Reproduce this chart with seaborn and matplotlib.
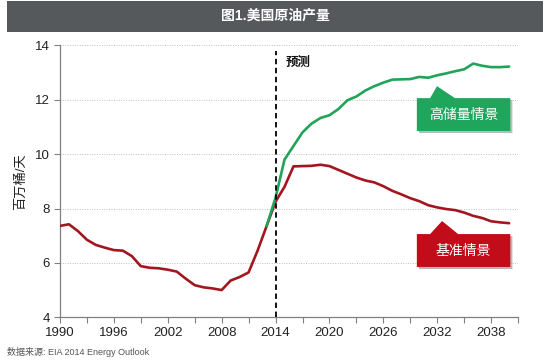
import matplotlib
matplotlib.use("Agg")
import pandas as pd
import matplotlib.pyplot as plt
import matplotlib.patheffects as pe
from matplotlib.patches import Polygon, Rectangle
from matplotlib.ticker import FixedLocator, MultipleLocator
import seaborn as sns

# data (million barrels / day)
years = list(range(1990, 2041))
base = [7.36, 7.42, 7.17, 6.85, 6.66, 6.56, 6.47, 6.45, 6.25, 5.88,
        5.82, 5.80, 5.75, 5.68, 5.42, 5.18, 5.10, 5.06, 5.00, 5.35,
        5.48, 5.65, 6.45, 7.35, 8.25, 8.80, 9.55, 9.56, 9.57, 9.61,
        9.56, 9.42, 9.28, 9.14, 9.03, 8.96, 8.82, 8.65, 8.52, 8.38,
        8.27, 8.12, 8.04, 7.98, 7.94, 7.85, 7.73, 7.65, 7.53, 7.49,
        7.46]
high_years = list(range(2013, 2041))
high = [7.35, 8.40, 9.80, 10.30, 10.80, 11.12, 11.33, 11.43, 11.66, 11.98,
        12.12, 12.34, 12.50, 12.63, 12.74, 12.75, 12.76, 12.84, 12.81, 12.90,
        12.97, 13.05, 13.12, 13.33, 13.25, 13.20, 13.20, 13.22]

label_years = [1990, 1996, 2002, 2008, 2014, 2020, 2026, 2032, 2038]
minor_years = [1993, 1999, 2005, 2011, 2017, 2023, 2029, 2035, 2041]

title = "图1.美国原油产量"
ylabel = "百万桶/天"
forecast_label = "预测"
base_label = "基准情景"
high_label = "高储量情景"
source = "数据来源: EIA 2014 Energy Outlook"
forecast_year = 2014

red = "#a3161f"
green = "#22a35a"
box_red = "#c10d19"
box_green = "#1fa55c"

df = pd.concat([
    pd.DataFrame({"year": years, "value": base, "scenario": base_label}),
    pd.DataFrame({"year": high_years, "value": high, "scenario": high_label}),
])

sns.set_theme(style="white")
plt.rcParams["font.family"] = ["Liberation Sans", "Noto Sans CJK SC", "DejaVu Sans"]

fig = plt.figure(figsize=(5.5, 3.63), dpi=100)
ax = fig.add_axes([0.109, 0.126, 0.833, 0.749])

sns.lineplot(data=df, x="year", y="value", hue="scenario",
             palette={base_label: red, high_label: green},
             linewidth=1.9, legend=False, ax=ax, zorder=3)

ax.set_xlim(1990, 2041)
ax.set_ylim(4, 14)
ax.xaxis.set_major_locator(FixedLocator(label_years))
ax.xaxis.set_minor_locator(FixedLocator(minor_years))
ax.yaxis.set_major_locator(MultipleLocator(2))
ax.tick_params(axis="both", which="both", direction="out", length=4,
               width=0.8, color="#808080", labelsize=9.5, labelcolor="#222222",
               bottom=True, left=True, pad=3)
ax.set_xlabel("")
ax.set_ylabel(ylabel, fontsize=9.5, color="#222222", labelpad=6)

for y in [6, 8, 10, 12, 14]:
    ax.axhline(y, color="#c0c0c0", linestyle=(0, (1, 1.5)), linewidth=0.7, zorder=1)

for side in ["top", "right"]:
    ax.spines[side].set_visible(False)
for side in ["left", "bottom"]:
    ax.spines[side].set_color("#808080")
    ax.spines[side].set_linewidth(0.9)

ax.axvline(forecast_year, ymin=0, ymax=0.98, color="black",
           linestyle=(0, (3, 2)), linewidth=1.3, zorder=4)
ax.text(0.492, 0.935, forecast_label, transform=ax.transAxes, fontsize=9,
        fontweight="bold", ha="left", va="center", color="#111111")

# callout boxes with pointer
def callout(x0, x1, yb, yt, bl, br, apex, color, label):
    verts = [(x0, yb), (x0, yt), (bl, yt), apex, (br, yt), (x1, yt), (x1, yb)]
    poly = Polygon(verts, closed=True, transform=ax.transAxes, facecolor=color,
                   edgecolor="none", zorder=5,
                   path_effects=[pe.withSimplePatchShadow(offset=(1.5, -1.5),
                                                          alpha=0.3)])
    ax.add_patch(poly)
    ax.text((x0 + x1) / 2, (yb + yt) / 2, label, transform=ax.transAxes,
            color="white", fontsize=10, ha="center", va="center", zorder=6)

callout(0.779, 0.983, 0.685, 0.806, 0.808, 0.862, (0.823, 0.850), box_green, high_label)
callout(0.779, 0.983, 0.185, 0.306, 0.808, 0.869, (0.834, 0.354), box_red, base_label)

# header bar
fig.patches.append(Rectangle((7 / 550, 1 - 32 / 363), 536 / 550, 31 / 363,
                             transform=fig.transFigure, facecolor="#55595b",
                             edgecolor="none", zorder=0))
fig.text(0.5, 1 - 16 / 363, title, color="white", fontsize=10,
         fontweight="bold", ha="center", va="center")

fig.text(7 / 550, 1 - 352 / 363, source, fontsize=6.5, color="#555555",
         ha="left", va="center")

fig.savefig("out.png", dpi=100, facecolor="white")
